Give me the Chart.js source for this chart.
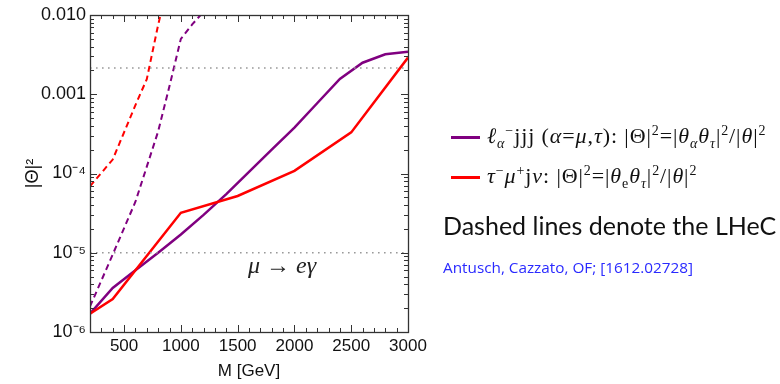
<!DOCTYPE html>
<html>
<head>
<meta charset="utf-8">
<script src="https://cdn.jsdelivr.net/npm/chart.js@4"></script>
<style>
  html, body { margin: 0; padding: 0; background: #fff; }
  #wrap { position: relative; width: 780px; height: 384px; overflow: hidden; }
  #chart { position: absolute; left: 0; top: 0; }
  .txt { position: absolute; white-space: nowrap; }
  .leg { font-family: "Liberation Serif", "DejaVu Serif", serif; font-size: 22px; letter-spacing: 0.9px; color: #111; }
  .leg sup, .leg sub { font-size: 14px; line-height: 0; }
  .swatch { position: absolute; width: 29px; height: 3px; }
  #note { font-family: Lato, "Open Sans", sans-serif; font-size: 25px; color: #111; }
  #cite { font-family: "Open Sans", Lato, sans-serif; font-size: 15.3px; color: #2a2aff; }
  #mueg { font-family: "Liberation Serif", serif; font-style: italic; font-size: 24px; color: #222; }
</style>
</head>
<body>
<div id="wrap">
  <canvas id="chart" width="780" height="384"></canvas>
  <div class="swatch" style="left:451px; top:136px; background:#800080;"></div>
  <div class="txt leg" style="left:487px; top:123px;"><i>ℓ</i><sub><i>α</i></sub><sup>−</sup>jjj (<i>α</i>=<i>μ</i>,<i>τ</i>): |Θ|<sup>2</sup>=|<i>θ</i><sub><i>α</i></sub><i>θ</i><sub><i>τ</i></sub>|<sup>2</sup>/|<i>θ</i>|<sup>2</sup></div>
  <div class="swatch" style="left:451px; top:176px; background:#ff0000;"></div>
  <div class="txt leg" style="left:487px; top:163px;"><i>τ</i><sup>−</sup><i>μ</i><sup>+</sup>j<i>ν</i>: |Θ|<sup>2</sup>=|<i>θ</i><sub>e</sub><i>θ</i><sub><i>τ</i></sub>|<sup>2</sup>/|<i>θ</i>|<sup>2</sup></div>
  <div class="txt" id="note" style="left:443px; top:210px;">Dashed lines denote the LHeC</div>
  <div class="txt" id="cite" style="left:443px; top:257px;">Antusch, Cazzato, OF; [1612.02728]</div>
  <div class="txt" id="mueg" style="left:248px; top:252px;">μ → eγ</div>
</div>
<script>
// masses (GeV) and |Theta|^2 values
const purpleM      = [200, 400, 600, 800, 1000, 1200, 1400, 1600, 1800, 2000, 2200, 2400, 2600, 2800, 3000];
const purpleSolid  = [1.7e-6, 3.6e-6, 6.0e-6, 1.0e-5, 1.7e-5, 3.0e-5, 5.5e-5, 1.05e-4, 2.0e-4, 3.8e-4, 7.7e-4, 1.56e-3, 2.5e-3, 3.2e-3, 3.45e-3];

const redM         = [200, 400, 1000, 1500, 2000, 2500, 3000];
const redSolid     = [1.7e-6, 2.6e-6, 3.2e-5, 5.2e-5, 1.08e-4, 3.3e-4, 2.9e-3];

const purpleDashM  = [200, 400, 600, 700, 800, 900, 1000, 1100, 1200];
const purpleDashed = [2.1e-6, 9.5e-6, 4.4e-5, 1.22e-4, 3.4e-4, 1.27e-3, 5.0e-3, 7.6e-3, 1.1e-2];

const redDashM     = [200, 400, 600, 700, 800, 900];
const redDashed    = [6.9e-5, 1.5e-4, 7.3e-4, 1.55e-3, 7.5e-3, 3.0e-2];

// dotted reference bounds
const boundM       = [200, 3000];
const muEgBound    = 1e-5;
const upperBound   = 2.14e-3;

const xTicks = [500, 1000, 1500, 2000, 2500, 3000];
const yTicks = [1e-6, 1e-5, 1e-4, 1e-3, 1e-2];
const yLabels = { "-6": "10⁻⁶", "-5": "10⁻⁵", "-4": "10⁻⁴", "-3": "0.001", "-2": "0.010" };

const pts = (xs, ys) => xs.map((x, i) => ({ x: x, y: ys[i] }));

const PURPLE = "#800080";
const RED = "#ff0000";

const frameTicks = {
    id: "frameTicks",
    afterDatasetsDraw(chart) {
        const { ctx, chartArea: a, scales: { x, y } } = chart;
        ctx.save();
        ctx.strokeStyle = "#333";
        ctx.lineWidth = 1;
        ctx.beginPath();
        for (let v = 200; v <= 3000; v += 100) {
            const px = Math.round(x.getPixelForValue(v)) + 0.5;
            const len = v % 500 === 0 ? 7 : 4;
            ctx.moveTo(px, a.bottom); ctx.lineTo(px, a.bottom - len);
            ctx.moveTo(px, a.top);    ctx.lineTo(px, a.top + len);
        }
        for (let d = -6; d <= -2; d++) {
            for (let m = 1; m <= 9; m++) {
                const v = m * Math.pow(10, d);
                if (v > 0.0100001) break;
                const py = Math.round(y.getPixelForValue(v)) + 0.5;
                const len = m === 1 ? 7 : 4;
                ctx.moveTo(a.left, py);  ctx.lineTo(a.left + len, py);
                ctx.moveTo(a.right, py); ctx.lineTo(a.right - len, py);
            }
        }
        ctx.stroke();
        ctx.lineWidth = 1.3;
        ctx.strokeRect(Math.round(a.left) + 0.5, Math.round(a.top) + 0.5,
                       Math.round(a.right - a.left), Math.round(a.bottom - a.top));
        ctx.restore();
    }
};

const canvas = document.getElementById("chart");

new Chart(canvas, {
    type: "line",
    data: {
        datasets: [
            { data: pts(boundM, boundM.map(() => muEgBound)), borderColor: "#999", borderWidth: 1.6, borderDash: [1.6, 4.4] },
            { data: pts(boundM, boundM.map(() => upperBound)), borderColor: "#999", borderWidth: 1.6, borderDash: [1.6, 4.4] },
            { data: pts(redDashM, redDashed), borderColor: RED, borderWidth: 2, borderDash: [6, 4] },
            { data: pts(purpleDashM, purpleDashed), borderColor: PURPLE, borderWidth: 2, borderDash: [6, 4] },
            { data: pts(redM, redSolid), borderColor: RED, borderWidth: 2.5 },
            { data: pts(purpleM, purpleSolid), borderColor: PURPLE, borderWidth: 2.5 }
        ]
    },
    options: {
        responsive: false,
        animation: false,
        layout: { padding: { left: 0, top: 15, right: 372, bottom: 0 } },
        elements: { point: { radius: 0 }, line: { tension: 0, fill: false } },
        plugins: { legend: { display: false }, tooltip: { enabled: false } },
        scales: {
            x: {
                type: "linear",
                min: 200, max: 3000,
                afterBuildTicks: s => { s.ticks = xTicks.map(v => ({ value: v })); },
                afterFit: s => { s.height = 52; },
                grid: { display: false, drawTicks: false },
                border: { display: false },
                ticks: { color: "#111", font: { family: "Liberation Sans, Arial, sans-serif", size: 17 }, padding: 4, maxRotation: 0,
                         callback: v => String(v) },
                title: { display: true, text: "M [GeV]", color: "#111", font: { family: "Liberation Sans, Arial, sans-serif", size: 17 }, padding: { top: 0, bottom: 2 } }
            },
            y: {
                type: "logarithmic",
                min: 1e-6, max: 1e-2,
                afterBuildTicks: s => { s.ticks = yTicks.map(v => ({ value: v })); },
                afterFit: s => { s.width = 90; },
                grid: { display: false, drawTicks: false },
                border: { display: false },
                ticks: {
                    color: "#111", font: { family: "Liberation Sans, Arial, sans-serif", size: 18 }, padding: 4,
                    callback: v => yLabels[String(Math.round(Math.log10(v)))]
                },
                title: { display: true, text: "|Θ|²", color: "#111", font: { family: "Liberation Sans, Arial, sans-serif", size: 18 }, padding: { top: 22, bottom: 0 } }
            }
        }
    },
    plugins: [frameTicks]
});
</script>
</body>
</html>
